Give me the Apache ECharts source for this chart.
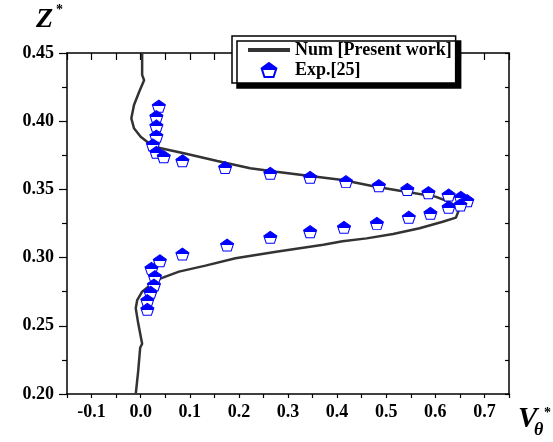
<!DOCTYPE html>
<html>
<head>
<meta charset="utf-8">
<script src="https://cdn.jsdelivr.net/npm/echarts@6/dist/echarts.min.js"></script>
<style>
html,body{margin:0;padding:0;background:#fff;}
#chart{width:553px;height:442px;}
</style>
</head>
<body>
<div id="chart"></div>
<script>
// Numerical curve (V_theta*, Z*)
const numV = [0.003,0.003,0.007,-0.003,-0.0136,-0.019,-0.0136,0.000,0.017,0.041,0.088,0.156,0.223,0.276,0.345,0.411,0.479,0.546,0.600,0.627,0.644,0.648,0.642,0.615,0.568,0.514,0.460,0.411,0.372,0.276,0.193,0.132,0.078,0.041,0.020,0.003,-0.007,-0.010,-0.005,0.003,-0.001,-0.005,-0.010];
const numZ = [0.450,0.434,0.430,0.4216,0.4119,0.4021,0.3948,0.3886,0.3838,0.3801,0.3765,0.3708,0.3655,0.3630,0.3598,0.3569,0.3520,0.3479,0.3447,0.3410,0.3373,0.3350,0.3293,0.3263,0.3215,0.3173,0.3141,0.3120,0.3094,0.3043,0.2995,0.2941,0.2897,0.2848,0.2799,0.2750,0.2689,0.2628,0.2518,0.2369,0.2339,0.2169,0.200];
// Experimental points
const expV = [0.037,0.032,0.032,0.032,0.025,0.032,0.047,0.085,0.172,0.264,0.345,0.418,0.485,0.543,0.586,0.627,0.652,0.665,0.651,0.627,0.590,0.546,0.481,0.414,0.345,0.264,0.176,0.085,0.039,0.022,0.029,0.027,0.020,0.0136,0.0136];
const expZ = [0.411,0.4033,0.3965,0.389,0.3826,0.3772,0.374,0.371,0.366,0.3618,0.3589,0.3557,0.3527,0.350,0.3476,0.3459,0.3442,0.3417,0.3386,0.3369,0.3325,0.3296,0.3251,0.3222,0.319,0.3149,0.3092,0.3026,0.2977,0.2921,0.286,0.2799,0.2746,0.2684,0.2621];
const seriesNames = ['Num [Present work]', 'Exp.[25]'];

const FONT = 'Liberation Serif';
const numData = numV.map((v,i)=>[v,numZ[i]]);
const expData = expV.map((v,i)=>[v,expZ[i]]);
const pentagon = 'path://M0,-10 L9.51,-3.09 L5.88,8.09 L-5.88,8.09 L-9.51,-3.09 Z';
const markerFill = new echarts.graphic.LinearGradient(0,0,0,1,[
  {offset:0,color:'#0000ff'},{offset:0.52,color:'#0000ff'},
  {offset:0.52,color:'#ffffff'},{offset:1,color:'#ffffff'}]);

const chart = echarts.init(document.getElementById('chart'));
const lbl = {fontFamily:FONT,fontWeight:'bold',fontSize:18,color:'#000'};
chart.setOption({
  animation:false,
  backgroundColor:'#fff',
  grid:{left:67,top:53,right:44,bottom:48},
  legend:{
    orient:'vertical', left:232, top:36,
    itemWidth:42, itemHeight:14, itemGap:2,
    padding:[5,4,4,14],
    backgroundColor:'#fff', borderColor:'#000', borderWidth:1.5, borderRadius:0,
    shadowColor:'#000', shadowBlur:0.01, shadowOffsetX:5, shadowOffsetY:5,
    textStyle:{fontFamily:FONT,fontWeight:'bold',fontSize:18,color:'#000'},
    data:[
      {name:seriesNames[0],itemStyle:{opacity:0},lineStyle:{width:4,color:'#333'}},
      {name:seriesNames[1]}
    ]
  },
  xAxis:[{
    type:'value', min:-0.15, max:0.75, interval:0.05,
    axisLine:{onZero:false,lineStyle:{color:'#000',width:1.5}},
    axisTick:{inside:false,length:4,lineStyle:{color:'#000',width:1.2}},
    splitLine:{show:false},
    axisLabel:Object.assign({margin:9,formatter:function(v){
      const t=v*10; if(Math.abs(t-Math.round(t))>1e-6) return ''; return (Math.round(t)/10).toFixed(1);}},lbl)
  },{
    type:'value', position:'top', min:-0.15, max:0.75, interval:0.05,
    axisLine:{show:true,onZero:false,lineStyle:{color:'#000',width:1.5}},
    axisTick:{show:true,inside:true,length:7,interval:function(i){return i%2===1;},lineStyle:{color:'#000',width:1.2}},
    axisLabel:{show:false}, splitLine:{show:false}
  }],
  yAxis:[{
    type:'value', min:0.2, max:0.45, interval:0.05,
    axisLine:{onZero:false,lineStyle:{color:'#000',width:1.5}},
    axisTick:{inside:false,length:8,lineStyle:{color:'#000',width:1.2}},
    minorTick:{show:true,splitNumber:2,length:5,lineStyle:{color:'#000',width:1.2}},
    splitLine:{show:false},
    axisLabel:Object.assign({margin:13,formatter:function(v){return v.toFixed(2);}},lbl)
  },{
    type:'value', position:'right', min:0.2, max:0.45, interval:0.025,
    axisLine:{show:true,onZero:false,lineStyle:{color:'#000',width:1.5}},
    axisTick:{show:true,inside:true,length:4,lineStyle:{color:'#000',width:1.2}},
    axisLabel:{show:false}, splitLine:{show:false}
  }],
  graphic:[
    {type:'text',left:36,top:6,style:{text:'Z',fontFamily:FONT,fontStyle:'italic',fontWeight:'bold',fontSize:28,fill:'#000'}},
    {type:'text',left:56,top:3,style:{text:'*',fontFamily:FONT,fontWeight:'bold',fontSize:14,fill:'#000'}},
    {type:'text',left:518,top:405,style:{text:'V',fontFamily:FONT,fontStyle:'italic',fontWeight:'bold',fontSize:29,fill:'#000'}},
    {type:'text',left:534,top:421,style:{text:'θ',fontFamily:FONT,fontStyle:'italic',fontWeight:'bold',fontSize:18,fill:'#000'}},
    {type:'text',left:544,top:406,style:{text:'*',fontFamily:FONT,fontWeight:'bold',fontSize:14,fill:'#000'}}
  ],
  series:[{
    name:seriesNames[0], type:'line', data:numData, symbol:'none', smooth:false,
    lineStyle:{color:'#333',width:2.5}, itemStyle:{color:'#333'}, z:2
  },{
    name:seriesNames[1], type:'scatter', data:expData, symbol:pentagon, symbolSize:[13,12],
    itemStyle:{color:markerFill,borderColor:'#0000ff',borderWidth:1,opacity:1}, z:3
  }]
});
</script>
</body>
</html>
